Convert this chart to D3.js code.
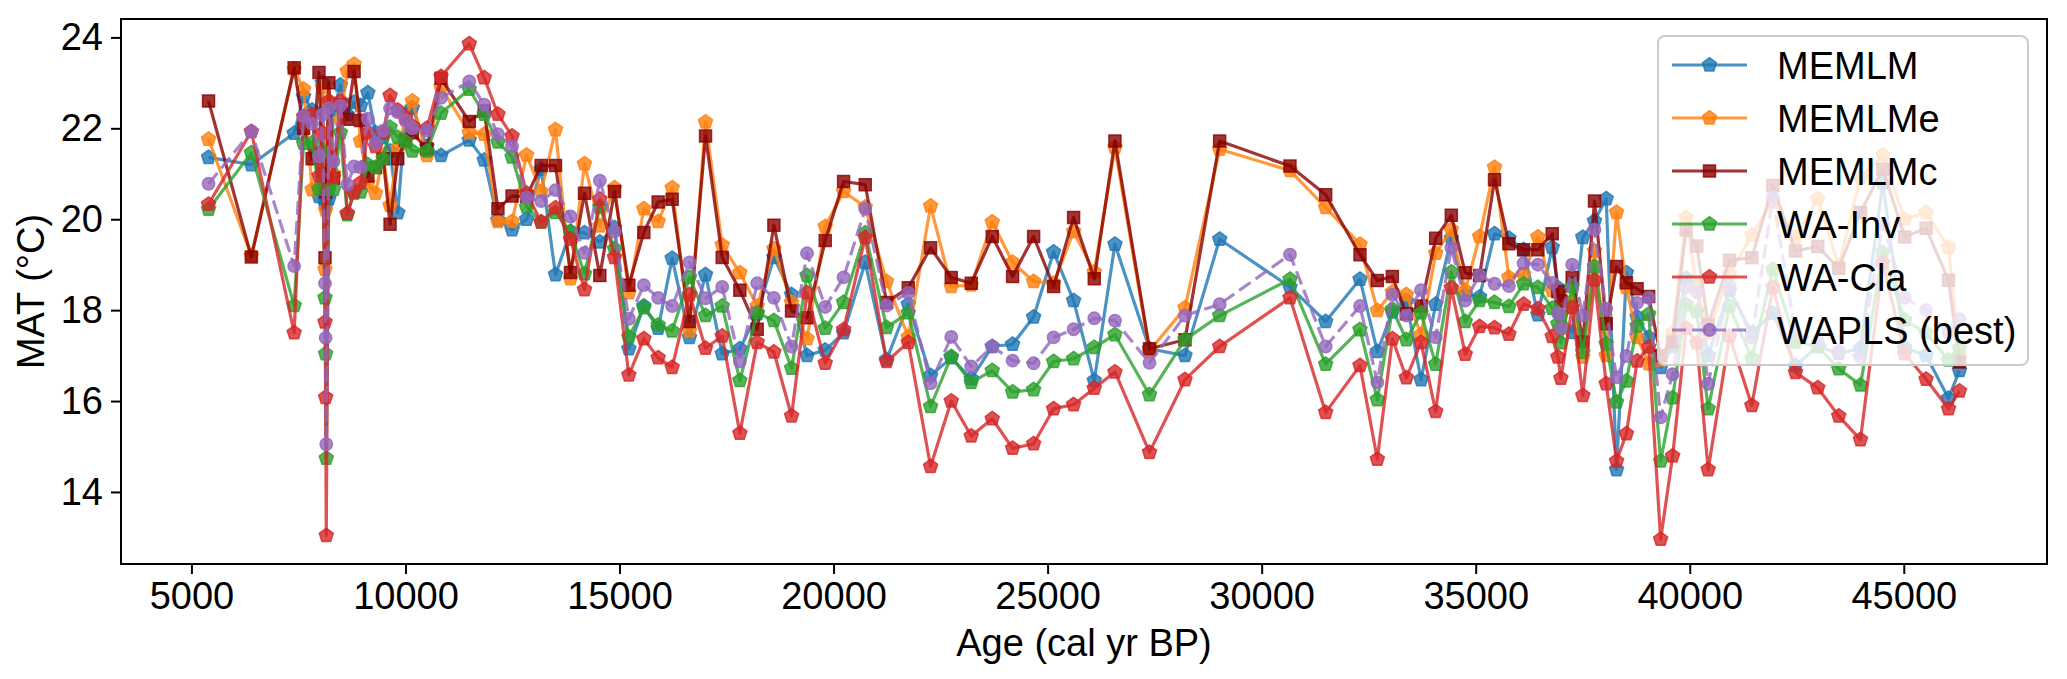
<!DOCTYPE html>
<html>
<head>
<meta charset="utf-8">
<script src="https://cdn.jsdelivr.net/npm/d3@7"></script>
<style>
  body { margin: 0; background: #fff; }
  svg { display: block; font-family: "Liberation Sans", Arial, sans-serif; }
</style>
</head>
<body>
<svg id="chart"></svg>
<script>
// Sample ages (cal yr BP), shared by every reconstruction.
const ages = [
  5400, 6400, 7400, 7620, 7820, 7980, 8060, 8120, 8135, 8150,
  8210, 8320, 8480, 8640, 8800, 8950, 9120, 9300, 9480, 9640,
  9820, 10000, 10160, 10500, 10830, 11490, 11840, 12160, 12490, 12830,
  13170, 13505, 13855, 14182, 14540, 14883, 15218, 15568, 15903, 16230,
  16635, 17009, 17399, 17811, 18216, 18606, 19019, 19380, 19805, 20234,
  20740, 21238, 21745, 22266, 22749, 23216, 23707, 24182, 24673, 25140,
  25607, 26090, 26573, 27380, 28209, 29019, 30662, 31495, 32297, 32702,
  33053, 33380, 33723, 34065, 34430, 34755, 35090, 35440, 35775, 36118,
  36453, 36788, 36920, 36990, 37253, 37502, 37775, 38048, 38290, 38520,
  38770, 39040, 39320, 39600, 39915, 40165, 40430, 40928, 41450, 41940,
  42470, 42990, 43480, 43987, 44510, 45020, 45520, 46044, 46300
];

const memlm = [
  21.36, 21.2, 21.89, 22.7, 22.4, 20.5, 23.0, 20.4, 20.3, 20.5,
  20.45, 22.4, 22.95, 22.3, 22.57, 22.5, 22.78, 21.9, 21.8, 21.5,
  20.14, 22.3, 22.45, 21.6, 21.4, 21.74, 21.3, 19.98, 19.77, 20.0,
  21.1, 18.78, 19.73, 19.7, 19.5, 19.81, 17.15, 18.09, 17.6, 19.14,
  17.4, 18.78, 17.04, 17.15, 17.92, 19.16, 18.34, 17.0, 17.12, 17.5,
  19.05, 16.91, 18.13, 16.56, 16.95, 16.49, 17.2, 17.25, 17.85, 19.28,
  18.21, 16.45, 19.45, 17.15, 17.0, 19.56, 18.51, 17.75, 18.68, 17.09,
  17.96, 18.2, 16.47, 18.13, 19.58, 18.34, 18.29, 19.68, 19.58, 19.33,
  17.9, 19.38, 18.49, 17.9, 17.51, 19.6, 19.96, 20.45, 14.49, 18.82,
  17.85, 17.4, 16.74, 17.2, 18.7, 18.54, 17.0, 18.43, 17.5, 17.93,
  16.78, 17.2, 17.05, 17.16, 20.8, 17.17, 17.0, 16.06, 16.67
];
const memlme = [
  21.76, 19.2, 23.3, 22.86, 20.65, 20.7, 22.9, 18.9, 20.2, 20.9,
  22.6, 21.0, 22.2, 23.26, 23.41, 21.72, 20.8, 20.57, 21.4, 20.3,
  21.56, 22.2, 22.6, 21.4, 22.9, 21.9, 21.87, 19.95, 19.95, 21.41,
  20.61, 21.97, 18.69, 21.22, 19.85, 20.69, 18.38, 20.23, 19.95, 20.69,
  17.54, 22.14, 19.43, 18.82, 18.09, 19.35, 18.17, 17.37, 19.84, 20.61,
  20.27, 18.63, 17.41, 20.29, 18.52, 18.55, 19.94, 19.05, 18.63, 18.59,
  19.73, 18.84, 21.58, 17.1, 18.05, 21.54, 21.07, 20.26, 19.45, 17.99,
  18.4, 18.34, 17.46, 19.25, 19.77, 18.43, 19.62, 21.14, 18.72, 18.79,
  19.61, 18.43, 18.4, 17.6, 18.2, 16.97, 19.3, 17.0, 20.15, 18.5,
  17.4, 16.82, 16.9, 17.5, 20.03, 18.5, 17.5, 18.8, 19.65, 20.4,
  19.6, 20.45, 18.96, 20.92, 21.41, 20.0, 20.15, 19.38, 17.0
];
const memlmc = [
  22.6, 19.17, 23.33, 22.0, 21.33, 23.23, 21.0, 19.15, 20.6, 20.9,
  23.0, 20.9, 22.52, 22.2, 23.25, 22.17, 20.95, 21.14, 21.33, 19.89,
  21.33, 21.74, 21.9, 21.55, 23.1, 22.15, 22.38, 20.23, 20.51, 20.5,
  21.18, 21.18, 18.83, 20.57, 18.76, 20.61, 18.55, 19.71, 20.38, 20.44,
  17.75, 21.83, 19.16, 18.44, 17.58, 19.87, 17.98, 17.83, 19.53, 20.83,
  20.76, 18.17, 18.49, 19.37, 18.72, 18.59, 19.62, 18.74, 19.62, 18.52,
  20.04, 18.69, 21.72, 17.15, 17.35, 21.72, 21.17, 20.54, 19.22, 18.65,
  18.74, 17.92, 18.09, 19.58, 20.09, 18.82, 18.76, 20.87, 19.46, 19.33,
  19.33, 19.68, 18.41, 18.2, 18.72, 17.3, 20.4, 17.7, 18.96, 18.6,
  18.47, 18.3, 17.0, 17.3, 19.77, 19.41, 17.68, 19.1, 19.15, 20.74,
  19.3, 19.4, 18.92, 20.15, 21.1, 19.61, 19.8, 18.66, 16.86
];
const waInv = [
  20.22, 21.46, 18.1, 21.67, 21.68, 20.66, 21.5, 18.27, 17.04, 14.74,
  20.66, 20.66, 21.9, 20.1, 20.57, 20.6, 21.2, 21.14, 21.33, 22.02,
  21.8, 21.71, 21.5, 21.5, 22.33, 22.86, 22.31, 21.7, 21.37, 20.27,
  19.94, 20.15, 19.73, 18.8, 20.27, 19.35, 17.41, 18.05, 17.67, 17.54,
  18.72, 17.88, 18.09, 16.45, 17.94, 17.77, 16.72, 18.76, 17.6, 18.17,
  19.7, 17.62, 17.94, 15.88, 16.98, 16.41, 16.67, 16.2, 16.25, 16.87,
  16.93, 17.18, 17.46, 16.14, 17.35, 17.88, 18.68, 16.81, 17.57, 16.03,
  18.02, 17.35, 17.94, 16.81, 18.84, 17.75, 18.21, 18.17, 18.08, 18.58,
  18.5, 18.04, 17.7, 17.28, 18.52, 17.07, 18.96, 17.26, 15.98, 16.44,
  17.65, 17.91, 14.68, 16.07, 18.12, 17.97, 15.83, 18.08, 16.94, 18.9,
  17.3, 17.2, 16.71, 16.35, 19.27, 17.78, 17.5, 16.9, 17.16
];
const waCla = [
  20.33, 21.93, 17.5, 22.26, 22.3, 20.95, 21.9, 17.74, 16.08, 13.04,
  22.6, 20.92, 22.6, 20.13, 20.6, 20.8, 21.9, 21.6, 21.9, 22.72,
  22.4, 22.25, 22.05, 22.0, 23.14, 23.86, 23.11, 22.31, 21.83, 20.57,
  19.94, 20.25, 19.56, 18.45, 20.44, 19.16, 16.57, 17.37, 16.95, 16.74,
  18.34, 17.16, 17.43, 15.29, 17.29, 17.08, 15.67, 18.38, 16.83, 17.57,
  19.6, 16.87, 17.29, 14.56, 16.0, 15.23, 15.61, 14.96, 15.06, 15.83,
  15.92, 16.28, 16.64, 14.87, 16.47, 17.2, 18.27, 15.75, 16.78, 14.72,
  17.37, 16.51, 17.29, 15.77, 18.49, 17.03, 17.64, 17.61, 17.47, 18.13,
  18.03, 17.42, 16.97, 16.5, 18.06, 16.12, 18.66, 16.38, 14.68, 15.28,
  16.88, 17.19, 12.96, 14.79, 17.6, 17.28, 14.49, 17.43, 15.9, 18.5,
  16.63, 16.29, 15.67, 15.15, 19.04, 17.04, 16.48, 15.83, 16.22
];
const wapls = [
  20.78, 21.93, 18.97, 22.27, 22.1, 21.38, 22.3, 18.59, 17.39, 15.05,
  22.44, 21.27, 22.5, 20.76, 21.16, 21.14, 22.21, 21.68, 21.95, 22.44,
  22.35, 22.17, 22.0, 21.95, 22.67, 23.03, 22.52, 21.87, 21.6, 20.48,
  20.4, 20.64, 20.06, 19.26, 20.85, 19.73, 17.81, 18.55, 18.27, 18.09,
  19.05, 18.26, 18.51, 16.87, 18.59, 18.27, 17.2, 19.25, 18.07, 18.72,
  20.23, 18.1, 18.38, 16.39, 17.41, 16.76, 17.2, 16.89, 16.83, 17.4,
  17.58, 17.82, 17.77, 16.84, 17.88, 18.13, 19.22, 17.2, 18.09, 16.41,
  18.34, 17.88, 18.44, 17.4, 19.37, 18.21, 18.77, 18.58, 18.53, 19.03,
  19.0, 18.6, 17.93, 17.6, 19.0, 17.88, 19.77, 18.03, 16.52, 16.99,
  18.16, 18.27, 15.64, 16.59, 18.5, 18.39, 16.38, 18.54, 17.39, 20.49,
  17.5, 17.3, 17.1, 16.97, 19.9, 18.27, 18.0, 17.5, 17.8
];

const xTickValues = [5000, 10000, 15000, 20000, 25000, 30000, 35000, 40000, 45000];
const yTickValues = [14, 16, 18, 20, 22, 24];

const series = [
  {name: "MEMLM", values: memlm, color: "#1f77b4", marker: "pentagon", dash: null},
  {name: "MEMLMe", values: memlme, color: "#ff7f0e", marker: "pentagon", dash: null},
  {name: "MEMLMc", values: memlmc, color: "#8b0000", marker: "square", dash: null},
  {name: "WA-Inv", values: waInv, color: "#2ca02c", marker: "pentagon", dash: null},
  {name: "WA-Cla", values: waCla, color: "#d62728", marker: "pentagon", dash: null},
  {name: "WAPLS (best)", values: wapls, color: "#9467bd", marker: "circle", dash: "14,6"},
];

const width = 2067, height = 679;
const margin = {top: 19, right: 20, bottom: 115, left: 121};
const fontSize = 38;

const svg = d3.select("#chart").attr("width", width).attr("height", height);

// matplotlib style 5% padding on both axes
function padded(vals) {
  const [lo, hi] = d3.extent(vals);
  const p = (hi - lo) * 0.05;
  return [lo - p, hi + p];
}
const allY = series.flatMap(s => s.values);

const x = d3.scaleLinear().domain(padded(ages)).range([margin.left, width - margin.right]);
const y = d3.scaleLinear().domain(padded(allY)).range([height - margin.bottom, margin.top]);

function pentagon(r) {
  const pts = d3.range(5).map(k => {
    const a = -Math.PI / 2 + k * 2 * Math.PI / 5;
    return [r * Math.cos(a), r * Math.sin(a)];
  });
  return "M" + pts.map(p => p.join(",")).join("L") + "Z";
}
function markerPath(type) {
  if (type === "pentagon") return pentagon(7.4);
  if (type === "square") return "M-6,-6L6,-6L6,6L-6,6Z";
  return d3.symbol(d3.symbolCircle, Math.PI * 6.2 * 6.2)();
}

// Draw series.
const line = d3.line().x((d, i) => x(ages[i])).y(d => y(d));
series.forEach(s => {
  const g = svg.append("g");
  g.append("path")
    .datum(s.values)
    .attr("fill", "none")
    .attr("stroke", s.color)
    .attr("stroke-opacity", 0.8)
    .attr("stroke-width", 3.2)
    .attr("stroke-linejoin", "round")
    .attr("stroke-dasharray", s.dash)
    .attr("d", line);
  g.selectAll("path.m")
    .data(s.values)
    .join("path")
    .attr("class", "m")
    .attr("d", markerPath(s.marker))
    .attr("transform", (d, i) => `translate(${x(ages[i])},${y(d)})`)
    .attr("fill", s.color)
    .attr("fill-opacity", 0.8)
    .attr("stroke", s.color)
    .attr("stroke-opacity", 0.8)
    .attr("stroke-width", 1.5);
});

// Axes.
const xAxis = g => g
  .attr("transform", `translate(0,${height - margin.bottom})`)
  .call(d3.axisBottom(x).tickValues(xTickValues).tickFormat(d3.format("d")).tickSize(10).tickPadding(8))
  .call(g => g.select(".domain").remove())
  .call(g => g.selectAll(".tick line").attr("stroke", "#000").attr("stroke-width", 2))
  .call(g => g.selectAll(".tick text").attr("font-size", fontSize).attr("fill", "#000")
      .attr("font-family", "Liberation Sans, Arial, sans-serif"));
const yAxis = g => g
  .attr("transform", `translate(${margin.left},0)`)
  .call(d3.axisLeft(y).tickValues(yTickValues).tickFormat(d3.format("d")).tickSize(10).tickPadding(8))
  .call(g => g.select(".domain").remove())
  .call(g => g.selectAll(".tick line").attr("stroke", "#000").attr("stroke-width", 2))
  .call(g => g.selectAll(".tick text").attr("font-size", fontSize).attr("fill", "#000")
      .attr("font-family", "Liberation Sans, Arial, sans-serif"));
svg.append("g").call(xAxis);
svg.append("g").call(yAxis);

// Frame.
svg.append("rect")
  .attr("x", margin.left).attr("y", margin.top)
  .attr("width", width - margin.left - margin.right)
  .attr("height", height - margin.top - margin.bottom)
  .attr("fill", "none").attr("stroke", "#000").attr("stroke-width", 2);

// Axis labels.
svg.append("text")
  .attr("x", (margin.left + width - margin.right) / 2)
  .attr("y", 656)
  .attr("text-anchor", "middle")
  .attr("font-size", fontSize)
  .text("Age (cal yr BP)");
svg.append("text")
  .attr("transform", `translate(44,${(margin.top + height - margin.bottom) / 2}) rotate(-90)`)
  .attr("text-anchor", "middle")
  .attr("font-size", fontSize)
  .text("MAT (°C)");

// Legend.
const legend = svg.append("g");
legend.append("rect")
  .attr("x", 1658).attr("y", 36)
  .attr("width", 370).attr("height", 329)
  .attr("rx", 7)
  .attr("fill", "white").attr("fill-opacity", 0.8)
  .attr("stroke", "#cccccc").attr("stroke-width", 2);
series.forEach((s, i) => {
  const cy = 65 + i * 53;
  const row = legend.append("g");
  row.append("line")
    .attr("x1", 1672).attr("x2", 1747)
    .attr("y1", cy).attr("y2", cy)
    .attr("stroke", s.color).attr("stroke-opacity", 0.8)
    .attr("stroke-width", 3.2)
    .attr("stroke-dasharray", s.dash);
  row.append("path")
    .attr("d", markerPath(s.marker))
    .attr("transform", `translate(1709.5,${cy})`)
    .attr("fill", s.color).attr("fill-opacity", 0.8)
    .attr("stroke", s.color).attr("stroke-opacity", 0.8)
    .attr("stroke-width", 1.5);
  row.append("text")
    .attr("x", 1777).attr("y", cy)
    .attr("dy", "0.36em")
    .attr("font-size", fontSize)
    .text(s.name);
});
</script>
</body>
</html>
